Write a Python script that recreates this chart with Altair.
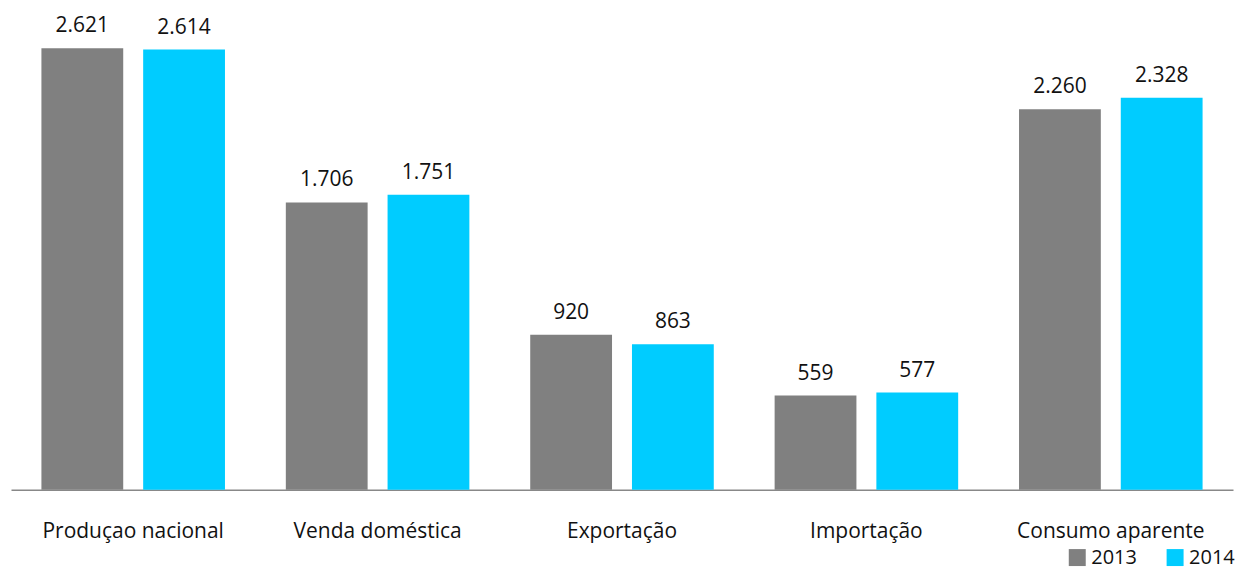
import altair as alt
import pandas as pd

categories = ["Produçao nacional", "Venda doméstica", "Exportação", "Importação", "Consumo aparente"]
series = ["2013", "2014"]
values_2013 = [2621, 1706, 920, 559, 2260]
values_2014 = [2614, 1751, 863, 577, 2328]
colors = ["#808080", "#00CCFF"]

rows = []
for c, a, b in zip(categories, values_2013, values_2014):
    rows.append({"cat": c, "ano": "2013", "v": a, "lbl": f"{a:,}".replace(",", ".")})
    rows.append({"cat": c, "ano": "2014", "v": b, "lbl": f"{b:,}".replace(",", ".")})
df = pd.DataFrame(rows)

FONT = "Open Sans"

x = alt.X("cat:N", sort=categories, title=None,
          scale=alt.Scale(paddingInner=0, paddingOuter=0),
          axis=alt.Axis(labelAngle=0, ticks=False, domainColor="#888888", domainWidth=1.5,
                        labelFont=FONT, labelFontSize=21, labelColor="#111111",
                        labelPadding=31, labelLimit=0, grid=False))
xo = alt.XOffset("ano:N", sort=series, scale=alt.Scale(paddingInner=0.196, paddingOuter=0.299))
y = alt.Y("v:Q", scale=alt.Scale(domain=[0, 2858]), axis=None)

base = alt.Chart(df)
bars = base.mark_bar().encode(
    x=x, xOffset=xo, y=y,
    color=alt.Color("ano:N", sort=series, scale=alt.Scale(domain=series, range=colors),
                    legend=alt.Legend(title=None, orient="none", legendX=1058, legendY=540,
                                      direction="horizontal", symbolType="square",
                                      symbolSize=289, symbolStrokeWidth=0, labelFont=FONT,
                                      labelFontSize=20, labelColor="#111111",
                                      columnPadding=28, padding=0, labelOffset=4)),
)
text = base.mark_text(baseline="alphabetic", dy=-16, font=FONT, fontSize=21, color="#111111").encode(
    x=x, xOffset=xo, y=y, text="lbl:N"
)

chart = (bars + text).properties(
    width=1224, height=482,
    padding={"left": 3, "top": 0, "right": 0, "bottom": 2},
).configure_view(stroke=None)
chart.save("out.html", embed_options={"renderer": "svg", "actions": False})
